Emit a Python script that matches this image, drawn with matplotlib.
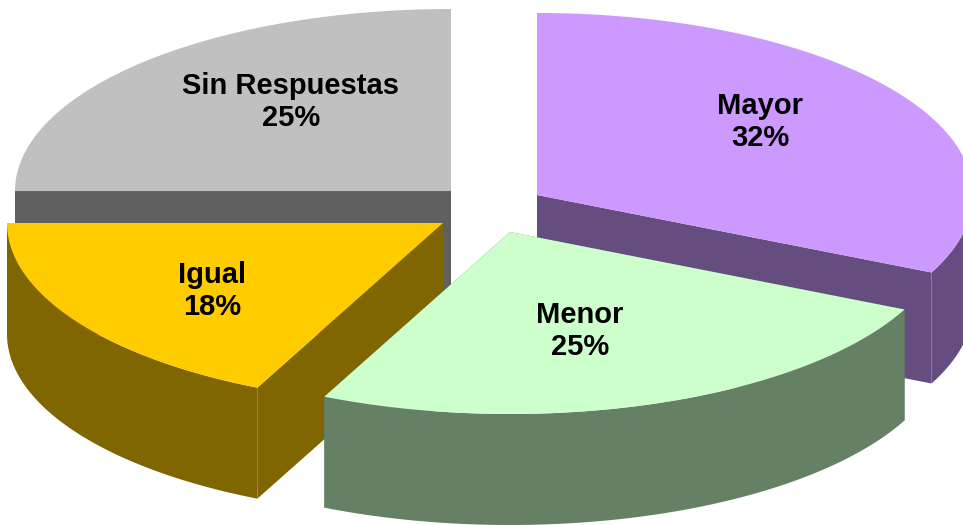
import numpy as np
import matplotlib
matplotlib.use('Agg')
import matplotlib.pyplot as plt

categories = ['Mayor', 'Menor', 'Igual', 'Sin Respuestas']
percent = [32, 25, 18, 25]
top_colors = ['#CC99FF', '#CCFFCC', '#FFCC00', '#C0C0C0']
side_colors = ['#664D80', '#668066', '#806600', '#606060']

# pie apex of each exploded slice, in pixels
apex = [(537, 195), (510, 232), (443, 223), (451, 191)]
label_pos = [(760, 122), (580, 331), (212, 291), (291, 102)]
a = 436
b = 182
depth = 111

plt.rcParams['font.family'] = ['Liberation Sans', 'DejaVu Sans']
fig = plt.figure(figsize=(9.63, 5.25), dpi=100)
ax = fig.add_axes([0, 0, 1, 1])
ax.set_xlim(0, 963)
ax.set_ylim(525, 0)
ax.axis('off')

ends = np.cumsum(percent) * 3.6
starts = ends - np.array(percent) * 3.6


def arc(c, t0, t1):
    t = np.radians(np.linspace(t0, t1, 120))
    return c[0] + a * np.sin(t), c[1] - b * np.cos(t)


# back to front
for i in [3, 0, 2, 1]:
    c = apex[i]
    t0, t1 = starts[i], ends[i]
    x, y = arc(c, t0, t1)

    # flat cut faces
    for k, t in [(0, t0), (-1, t1)]:
        if np.sin(np.radians(t)) != 0:
            ax.fill([c[0], x[k], x[k], c[0]],
                    [c[1], y[k], y[k] + depth, c[1] + depth],
                    color=side_colors[i], lw=0)

    # outer wall, front half only
    lo = max(t0, 90)
    hi = min(t1, 270)
    if lo < hi:
        xs, ys = arc(c, lo, hi)
        ax.fill(np.r_[xs, xs[::-1]], np.r_[ys, ys[::-1] + depth],
                color=side_colors[i], lw=0)

    # top
    ax.fill(np.r_[c[0], x], np.r_[c[1], y], color=top_colors[i], lw=0)

for i in range(4):
    ax.text(label_pos[i][0], label_pos[i][1],
            categories[i] + '\n' + str(percent[i]) + '%',
            ha='center', va='center', fontsize=21, fontweight='bold',
            color='black', linespacing=1.2)

fig.savefig('out.png', dpi=100, facecolor='white')
